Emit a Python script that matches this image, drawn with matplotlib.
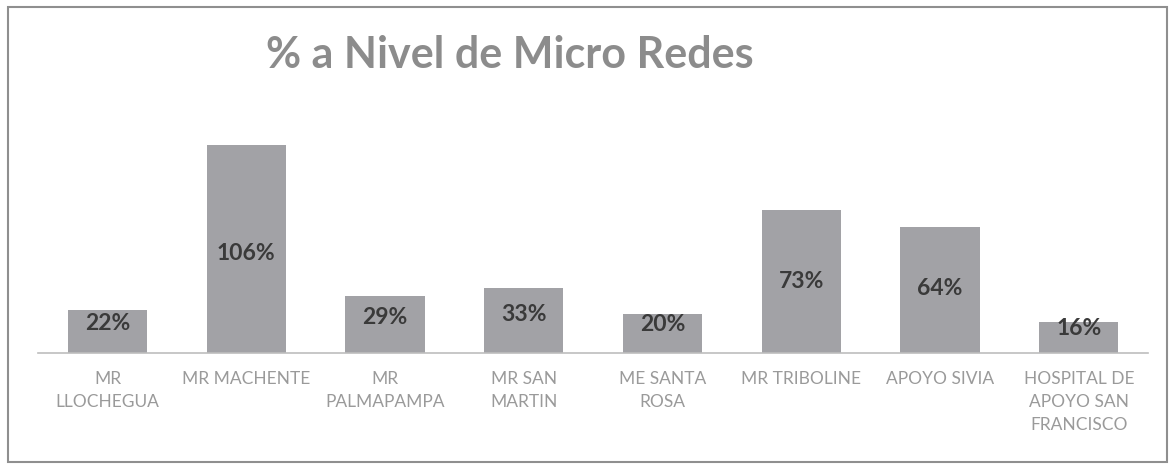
import matplotlib.pyplot as plt
from matplotlib.patches import Rectangle

categorias = ['MR\nLLOCHEGUA', 'MR MACHENTE', 'MR\nPALMAPAMPA', 'MR SAN\nMARTIN',
              'ME SANTA\nROSA', 'MR TRIBOLINE', 'APOYO SIVIA',
              'HOSPITAL DE\nAPOYO SAN\nFRANCISCO']
porcentajes = [22, 106, 29, 33, 20, 73, 64, 16]
etiquetas = ['22%', '106%', '29%', '33%', '20%', '73%', '64%', '16%']

plt.rcParams['font.family'] = ['Lato', 'DejaVu Sans']

fig = plt.figure(figsize=(11.71, 4.66), dpi=100)
fig.patch.set_facecolor('white')
ax = fig.add_axes([0.0325, 0.2425, 0.948, 0.505])

x = range(len(categorias))
ax.bar(x, porcentajes, width=0.57, color='#a2a2a6', zorder=2)

for i, v in enumerate(porcentajes):
    ax.text(i, 0.42 * v + 6, etiquetas[i], ha='center', va='center',
            fontsize=16.5, fontweight='bold', color='#3a3a3a', zorder=3)

ax.set_xlim(-0.5, len(categorias) - 0.5)
ax.set_ylim(0, 120)
ax.set_yticks([])
ax.set_xticks(list(x))
ax.set_xticklabels(categorias, fontsize=12.5, color='#9a9a9a', linespacing=1.55, va='top')
ax.tick_params(axis='x', length=0, pad=13)
for s in ['top', 'left', 'right']:
    ax.spines[s].set_visible(False)
ax.spines['bottom'].set_color('#bdbdbd')
ax.spines['bottom'].set_linewidth(1.2)

fig.text(0.435, 0.883, '% a Nivel de Micro Redes', ha='center', va='center',
         fontsize=31, fontweight='bold', color='#8c8c8c')

fig.patches.append(Rectangle((0.007, 0.008), 0.99, 0.978, transform=fig.transFigure,
                             fill=False, edgecolor='#8f8f8f', linewidth=1.5))

fig.savefig('out.png', dpi=100)
